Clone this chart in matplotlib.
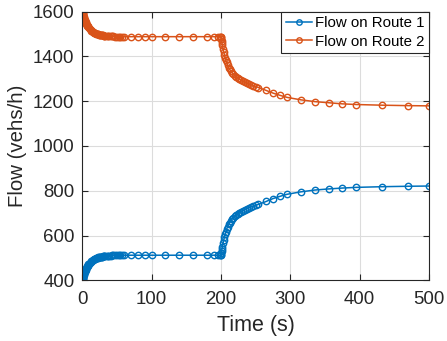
import matplotlib
matplotlib.use('Agg')
import matplotlib.pyplot as plt

# Time samples (s)
time = [0, 0.25, 0.5, 0.75, 1, 1.25, 1.5, 2, 2.5, 3, 3.5, 4, 4.5, 5, 5.5, 6, 6.5, 7,
        7.5, 8, 9, 10, 11, 12, 13, 14, 15, 16, 17, 18, 19, 20, 21, 22, 23, 24, 25, 26,
        27, 28, 29, 30, 31, 32, 33, 35, 37, 39, 41, 43, 45, 47.5, 50, 52.5, 55, 57.5,
        60, 70, 80, 90, 100, 120, 140, 160, 180, 190, 195, 198, 199.5,
        200, 200.5, 201, 201.5, 202, 203, 204, 205, 206, 207, 208, 209.5, 211, 212.5,
        214, 216, 218, 220, 222, 224, 226.5, 229, 231.5, 234, 237, 240, 243, 246, 250,
        254, 265, 275, 285, 295, 315, 335, 355, 375, 395, 432, 470, 500]

# Flow on route 1 (vehs/h)
route1 = [400, 403, 406, 409, 412, 415, 418, 423, 428, 433, 437, 441, 445, 448, 452,
          455, 458, 461, 464, 466, 471, 475, 479, 482, 485, 488, 490, 492, 494, 496,
          497, 499, 500, 501, 502, 502.5, 503, 504, 504.5, 505, 506, 506.5, 507, 507.5,
          508, 509, 509.5, 510, 510.5, 511, 511, 511.5, 512, 512, 512, 512, 512,
          512, 512, 512, 512, 512, 512, 512, 512, 512, 512, 512, 512,
          512, 522, 532, 541, 550, 566, 580, 594, 606, 617, 627, 640, 650, 658, 665,
          673, 680, 686, 691, 696, 701, 706, 710, 714, 719, 723, 727, 731, 735, 739,
          752, 765, 775, 784, 795, 803, 808, 812, 815, 818, 820, 821]

# Flow on route 2 (vehs/h)
route2 = [1600, 1597, 1594, 1591, 1588, 1585, 1582, 1577, 1572, 1567, 1563, 1559, 1555,
          1552, 1548, 1545, 1542, 1539, 1536, 1534, 1529, 1525, 1521, 1518, 1515, 1512,
          1510, 1508, 1506, 1504, 1503, 1501, 1500, 1499, 1498, 1497.5, 1497, 1496,
          1495.5, 1495, 1494, 1493.5, 1493, 1492.5, 1492, 1491, 1490.5, 1490, 1489.5,
          1489, 1489, 1488.5, 1488, 1488, 1488, 1488, 1488,
          1488, 1488, 1488, 1488, 1488, 1488, 1488, 1488, 1488, 1488, 1488, 1488,
          1488, 1478, 1468, 1459, 1450, 1434, 1420, 1406, 1394, 1383, 1373, 1360, 1350,
          1342, 1335, 1327, 1320, 1314, 1309, 1304, 1299, 1294, 1290, 1286, 1281, 1277,
          1273, 1269, 1265, 1261, 1248, 1236, 1226, 1217, 1206, 1198, 1193, 1188, 1185,
          1182, 1180, 1179]

blue = '#0072BD'
orange = '#D95319'
dark = '#262626'

plt.rcParams['font.family'] = ['Liberation Sans', 'DejaVu Sans']

fig = plt.figure(figsize=(4.47, 3.41), dpi=100)
ax = fig.add_axes([0.184, 0.178, 0.776, 0.788])

ax.plot(time, route1, '-o', color=blue, mfc='none', ms=4.6, lw=1.1, mew=1.0,
        label='Flow on Route 1')
ax.plot(time, route2, '-o', color=orange, mfc='none', ms=4.6, lw=1.1, mew=1.0,
        label='Flow on Route 2')

ax.set_xlim(0, 500)
ax.set_ylim(400, 1600)
ax.set_xticks([0, 100, 200, 300, 400, 500])
ax.set_yticks([400, 600, 800, 1000, 1200, 1400, 1600])

ax.grid(True, color='#dcdcdc', lw=0.8)
ax.set_axisbelow(True)
ax.tick_params(direction='in', top=True, right=True, length=4, width=0.8,
               labelsize=13.4, colors=dark)
ax.tick_params(axis='x', pad=8)
ax.tick_params(axis='y', pad=5.5)
for s in ax.spines.values():
    s.set_color(dark)
    s.set_linewidth(0.8)

ax.set_xlabel('Time (s)', fontsize=15.5, color=dark, labelpad=5)
ax.set_ylabel('Flow (vehs/h)', fontsize=14.7, color=dark, labelpad=4)

leg = ax.legend(loc='upper right', fontsize=10.8, frameon=True, fancybox=False,
                framealpha=1, edgecolor=dark, borderaxespad=0,
                handlelength=1.75, borderpad=0.3, labelspacing=0.3,
                handletextpad=0.2, markerscale=0.85)
leg.get_frame().set_linewidth(0.8)

fig.savefig('out.png', dpi=100)
